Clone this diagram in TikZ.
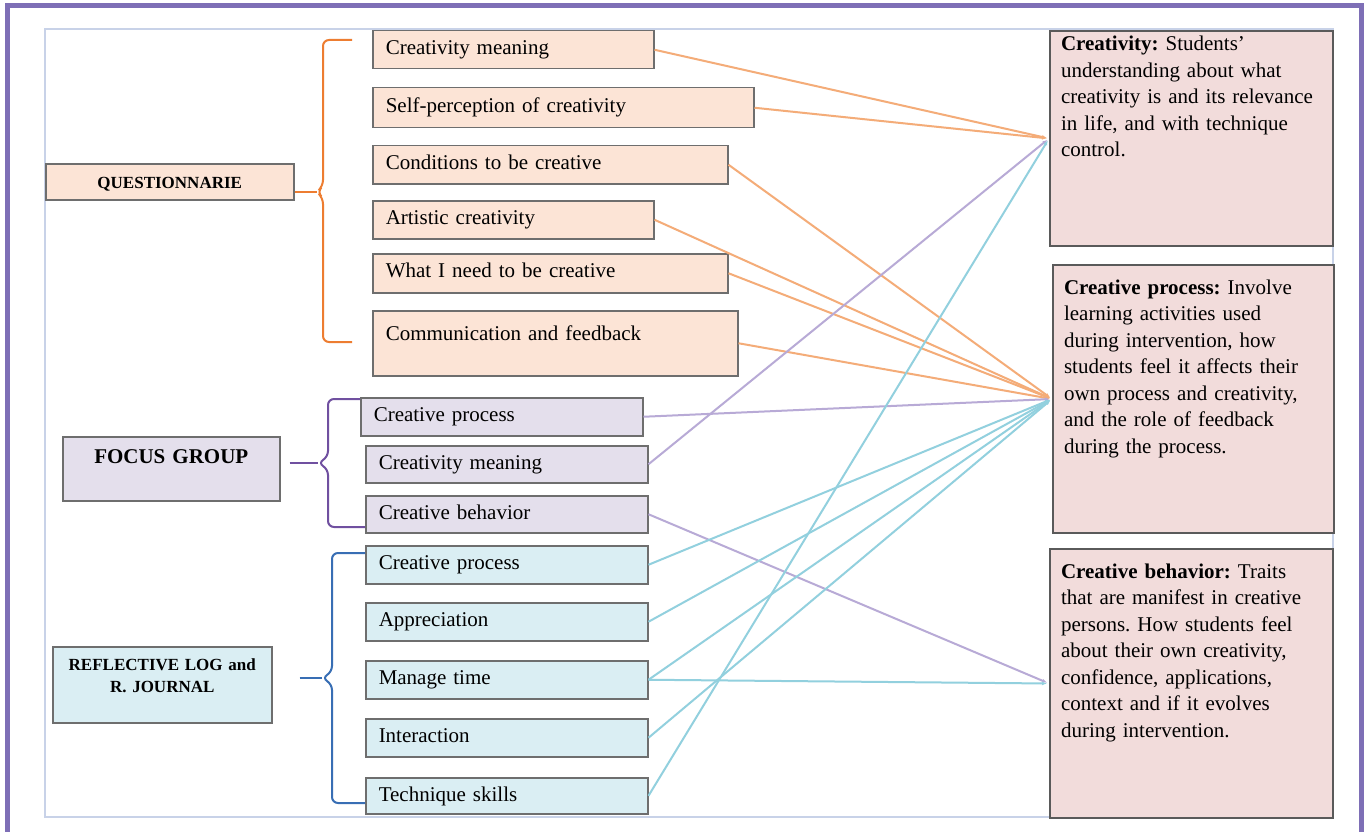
\documentclass[tikz,border=0pt]{standalone}
\usepackage{fontspec}
\setmainfont{Liberation Serif}
\usetikzlibrary{arrows.meta}
\frenchspacing

\definecolor{framec}{RGB}{126,111,182}
\definecolor{innerc}{RGB}{200,210,232}
\definecolor{boxline}{RGB}{110,110,110}
\definecolor{pkline}{RGB}{90,90,90}
\definecolor{qfill}{RGB}{252,228,214}
\definecolor{pfill}{RGB}{228,223,236}
\definecolor{bfill}{RGB}{218,238,243}
\definecolor{pkfill}{RGB}{242,220,219}
\definecolor{qlc}{RGB}{244,172,120}
\definecolor{qbc}{RGB}{237,125,49}
\definecolor{plc}{RGB}{184,170,214}
\definecolor{pbc}{RGB}{112,80,160}
\definecolor{blc}{RGB}{146,208,222}
\definecolor{bbc}{RGB}{56,110,180}

\newcommand\boxfont{\fontsize{21}{26.5}\selectfont}
\newcommand\catfont{\fontsize{17}{22}\selectfont\bfseries}

\begin{document}
\begin{tikzpicture}[x=1pt,y=-1pt,
	box/.style={draw=boxline,line width=1.5pt,anchor=north west,inner xsep=13pt,inner ysep=0pt,align=left,text height=24pt,text depth=14pt,font=\boxfont},
	qbox/.style={box,fill=qfill,text width=#1-26pt},
	pbox/.style={box,fill=pfill,text width=#1-26pt},
	bbox/.style={box,fill=bfill,text width=#1-26pt},
	catbox/.style={box,align=center,font=\catfont,inner xsep=6pt,text width=#1-12pt},
	pkbox/.style={draw=pkline,line width=2pt,fill=pkfill,anchor=north west,inner xsep=11pt,inner ysep=0pt,align=left,font=\boxfont,text width=#1-22pt},
	link/.style={line width=2pt,-{Latex[length=5pt,width=4pt]},shorten >=2pt},
	brace/.style={line width=2pt,rounded corners=6pt}]
		\useasboundingbox (0,0) rectangle (1365,832);
		\fill[white] (0,0) rectangle (1365,832);
		\draw[innerc,line width=2pt] (45,29) rectangle (1333,817);
		\draw[framec,line width=5pt] (7.5,850) -- (7.5,5.5) -- (1361,5.5) -- (1361,850);
		
		\node[catbox=248pt,fill=qfill,text height=25pt,text depth=11pt] (q) at (45,163) {QUESTIONNARIE};
		\node[catbox=217pt,fill=pfill,text height=27pt,text depth=37pt,font=\fontsize{21}{26}\selectfont\bfseries] (f) at (62,436) {FOCUS GROUP};
		\node[catbox=219pt,fill=bfill,text height=24pt,text depth=52pt] (r) at (52,646) {REFLECTIVE LOG and\\R. JOURNAL};
		
		\node[qbox=281pt] (q1) at (372,30) {Creativity meaning};
		\node[qbox=381pt,text height=25pt,text depth=15pt] (q2) at (372,87) {Self-perception of creativity};
		\node[qbox=355pt] (q3) at (372,145) {Conditions to be creative};
		\node[qbox=281pt] (q4) at (372,200) {Artistic creativity};
		\node[qbox=355pt,text depth=15pt] (q5) at (372,253) {What I need to be creative};
		\node[qbox=365pt,text height=30pt,text depth=35pt] (q6) at (372,310) {Communication and feedback};
		
		\node[pbox=282pt] (f1) at (360,397) {Creative process};
		\node[pbox=282pt,text depth=13pt] (f2) at (365,445) {Creativity meaning};
		\node[pbox=282pt,text depth=13pt] (f3) at (365,495) {Creative behavior};
		
		\node[bbox=282pt] (r1) at (365,545) {Creative process};
		\node[bbox=282pt] (r2) at (365,602) {Appreciation};
		\node[bbox=282pt] (r3) at (365,660) {Manage time};
		\node[bbox=282pt] (r4) at (365,718) {Interaction};
		\node[bbox=282pt,text depth=12pt] (r5) at (365,777) {Technique skills};
		
		\node[pkbox=283pt,text height=20pt,text depth=195pt] (cre) at (1049,30) {\textbf{Creativity:} Students'\\understanding about what\\creativity is and its relevance\\in life, and with technique\\control.};
		\node[pkbox=281pt,text height=29pt,text depth=239pt] (pro) at (1052,264) {\textbf{Creative process:} Involve\\learning activities used\\during intervention, how\\students feel it affects their\\own process and creativity,\\and the role of feedback\\during the process.};
		\node[pkbox=283pt,text height=29pt,text depth=240pt] (beh) at (1049,548) {\textbf{Creative behavior:} Traits\\that are manifest in creative\\persons. How students feel\\about their own creativity,\\confidence, applications,\\context and if it evolves\\during intervention.};
		
		\coordinate (qt) at (317,192);
		\coordinate (ft) at (318,463);
		\coordinate (rt) at (322,678);
		\draw[brace,qbc] (352,40) -- (323,40) -- (323,186) -- (qt) -- (323,198) -- (323,342) -- (352,342);
		\draw[qbc,line width=2pt] (qt -| q.east) -- (qt);
		\draw[brace,pbc] (f1.west |- 0,399) -- (328,399) -- (328,457) -- (ft) -- (328,469) -- (328,527) -- (f3.west |- 0,527);
		\draw[pbc,line width=2pt] ([xshift=9pt]ft -| f.east) -- (ft);
		\draw[brace,bbc] (r1.west |- 0,553) -- (332,553) -- (332,672) -- (rt) -- (332,684) -- (332,803) -- (r5.west |- 0,803);
		\draw[bbc,line width=2pt] ([xshift=27pt]rt -| r.east) -- (rt);
		
		\draw[link,qlc] (q1.east) -- (cre.west);
		\draw[link,qlc] (q2.east) -- (cre.west);
		\draw[link,qlc] (q3.east) -- (pro.west);
		\draw[link,qlc] (q4.east) -- (pro.west);
		\draw[link,qlc] (q5.east) -- (pro.west);
		\draw[link,qlc] (q6.east) -- (pro.west);
		\draw[link,plc] (f1.east) -- (pro.west);
		\draw[link,plc] (f2.east) -- (cre.west);
		\draw[link,plc] (f3.east) -- (beh.west);
		\draw[link,blc] (r1.east) -- (pro.west);
		\draw[link,blc] (r2.east) -- (pro.west);
		\draw[link,blc] (r3.east) -- (pro.west);
		\draw[link,blc] (r3.east) -- (beh.west);
		\draw[link,blc] (r4.east) -- (pro.west);
		\draw[link,blc] (r5.east) -- (cre.west);
		\end{tikzpicture}
\end{document}
